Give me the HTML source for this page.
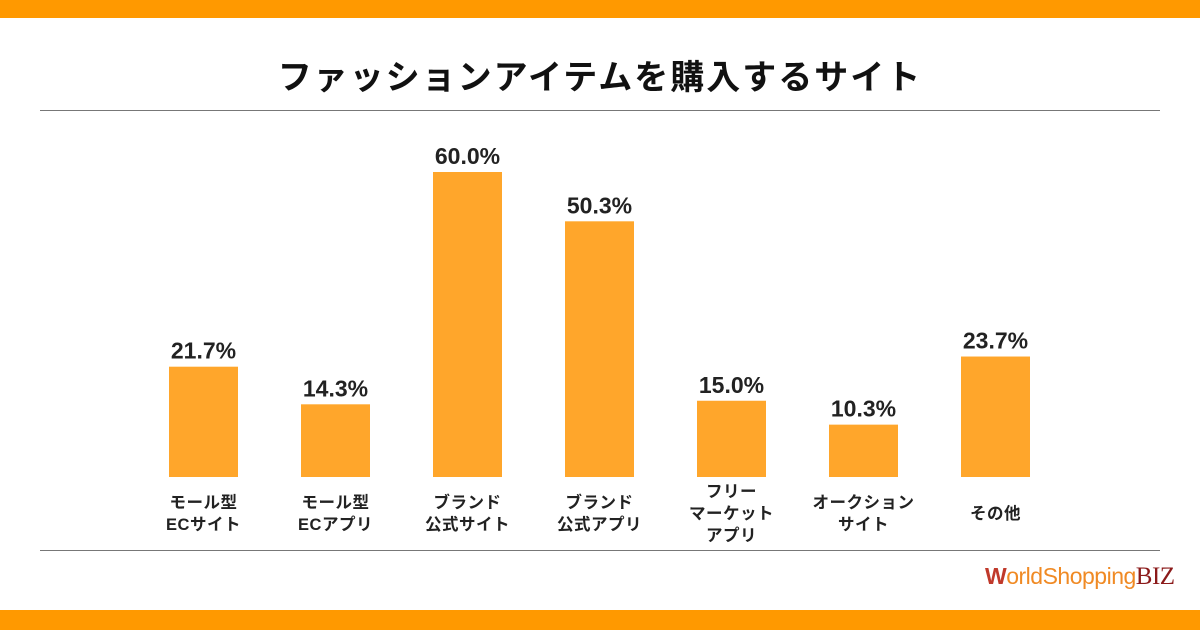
<!DOCTYPE html>
<html><head><meta charset="utf-8"><style>
body{margin:0;width:1200px;height:630px;background:#fff;overflow:hidden;font-family:"Liberation Sans","Noto Sans CJK JP",sans-serif;position:relative}
.band{position:absolute;left:0;width:1200px;background:#FF9900}
#title{position:absolute;left:0;top:50px;width:1200px;text-align:center;font-size:34px;font-weight:bold;color:#111;letter-spacing:2px}
.rule{position:absolute;left:40px;width:1120px;height:1px;background:#777}
#logo{position:absolute;left:985px;top:563px;font-size:23px;white-space:nowrap;letter-spacing:-0.5px}
</style></head><body>
<div class="band" style="top:0;height:18px"></div>
<div class="band" style="top:610px;height:20px"></div>
<div id="title">ファッションアイテムを購入するサイト</div>
<div class="rule" style="top:110px"></div>
<div class="rule" style="top:550px"></div>
<div id="logo"><span style="color:#c0392b;font-weight:bold">W</span><span style="color:#f08a24">orldShopping</span><span style="color:#8b1a1a;font-family:'Liberation Serif',serif;font-size:25px">BIZ</span></div>
<svg id="chart" width="1200" height="630" style="position:absolute;left:0;top:0"></svg>
<script>
const categories=[["モール型","ECサイト"],["モール型","ECアプリ"],["ブランド","公式サイト"],["ブランド","公式アプリ"],["フリー","マーケット","アプリ"],["オークション","サイト"],["その他"]];
const values=[21.7,14.3,60.0,50.3,15.0,10.3,23.7];
const valueLabels=["21.7%","14.3%","60.0%","50.3%","15.0%","10.3%","23.7%"];
const NS="http://www.w3.org/2000/svg";
const svg=document.getElementById('chart');
const base=477,scale=305/60;
const xc=i=>203.5+132*i;
const y=v=>base-v*scale;
values.forEach((v,i)=>{
 const r=document.createElementNS(NS,'rect');
 r.setAttribute('x',xc(i)-34.5);r.setAttribute('y',y(v));r.setAttribute('width',69);r.setAttribute('height',base-y(v));r.setAttribute('fill','#FFA62B');
 
 
 svg.appendChild(r);
 const t=document.createElementNS(NS,'text');
 t.setAttribute('x',xc(i));t.setAttribute('y',y(v)-8);t.setAttribute('text-anchor','middle');
 t.setAttribute('font-size','23');t.setAttribute('font-weight','bold');t.setAttribute('fill','#222');
 t.textContent=valueLabels[i];
 
 
 svg.appendChild(t);
 const lines=categories[i];
 const g=document.createElementNS(NS,'text');
 g.setAttribute('text-anchor','middle');g.setAttribute('font-size','16.5');g.setAttribute('font-weight','bold');g.setAttribute('fill','#222');
 g.setAttribute('letter-spacing','0.5');
 
 
 lines.forEach((s,k)=>{
  const ts=document.createElementNS(NS,'tspan');
  ts.setAttribute('x',xc(i));ts.setAttribute('y',519+(k-(lines.length-1)/2)*22);
  ts.textContent=s;g.appendChild(ts);
 });
 svg.appendChild(g);
});
</script>
</body></html>
